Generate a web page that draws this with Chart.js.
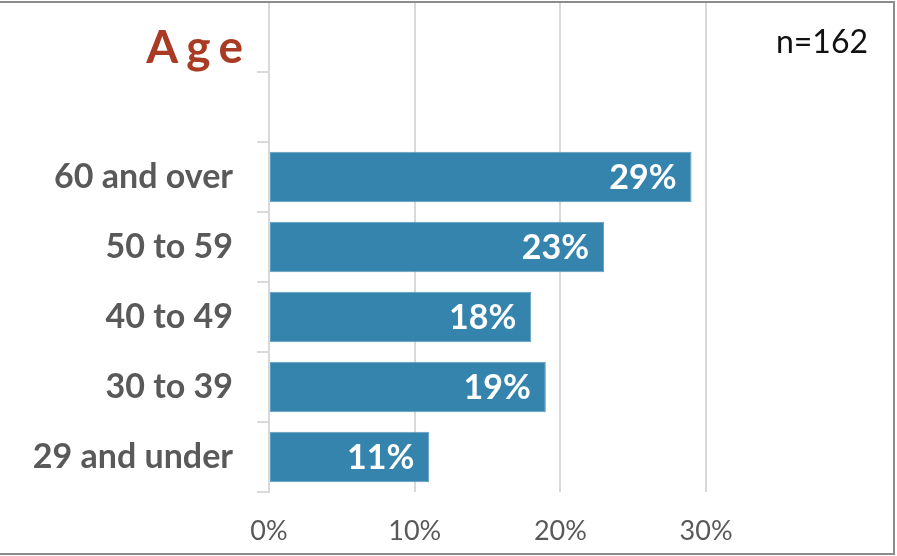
<!DOCTYPE html>
<html>
<head>
<meta charset="utf-8">
<script src="https://cdn.jsdelivr.net/npm/chart.js@4.4.1/dist/chart.umd.min.js"></script>
<style>
  html, body { margin: 0; padding: 0; background: #ffffff; }
  #wrap { width: 897px; height: 556px; }
</style>
</head>
<body>
<div id="wrap"><canvas id="ageChart" width="897" height="556"></canvas></div>
<script>
// Respondent age groups, top to bottom
const categories = ['60 and over', '50 to 59', '40 to 49', '30 to 39', '29 and under'];
// Share of respondents in each group, percent
const shares = [29, 23, 18, 19, 11];
// Gridline / tick positions on the value axis, percent
const xTicks = [0, 10, 20, 30];
const chartTitle = 'Age';
const sampleNote = 'n=162';

// two empty slots above the bars leave room for the title
const labels = ['', ''].concat(categories);
const values = [null, null].concat(shares);

const GRID = '#d9d9d9';
const TEXT = '#595959';

const barLabels = {
  id: 'barLabels',
  afterDatasetsDraw(chart) {
    const ctx = chart.ctx;
    const meta = chart.getDatasetMeta(0);
    ctx.save();
    ctx.font = 'bold 34px Lato';
    ctx.fillStyle = '#ffffff';
    ctx.textAlign = 'right';
    ctx.textBaseline = 'middle';
    meta.data.forEach((bar, i) => {
      const v = values[i];
      if (v === null) return;
      ctx.fillText(v + '%', bar.x - 15, bar.y + 1);
    });
    ctx.restore();
  }
};

const decorations = {
  id: 'decorations',
  afterDraw(chart) {
    const ctx = chart.ctx;
    ctx.save();
    // title with spaced letters
    ctx.font = 'bold 46px Lato';
    ctx.fillStyle = '#a93a24';
    ctx.textAlign = 'left';
    ctx.textBaseline = 'alphabetic';
    const gap = 8;
    const chars = chartTitle.split('');
    let total = chars.reduce((s, c) => s + ctx.measureText(c).width, 0) + gap * (chars.length - 1);
    let x = 243 - total;
    chars.forEach(c => {
      ctx.fillText(c, x, 63);
      x += ctx.measureText(c).width + gap;
    });
    // sample size
    ctx.font = '32px Lato';
    ctx.fillStyle = '#111111';
    ctx.textAlign = 'right';
    ctx.fillText(sampleNote, 868, 53);
    // outer frame
    ctx.strokeStyle = '#8c8c8c';
    ctx.lineWidth = 2;
    ctx.beginPath();
    ctx.moveTo(0, 2);
    ctx.lineTo(894, 2);
    ctx.lineTo(894, 554);
    ctx.lineTo(0, 554);
    ctx.stroke();
    ctx.restore();
  }
};

new Chart(document.getElementById('ageChart'), {
  type: 'bar',
  data: {
    labels: labels,
    datasets: [{
      data: values,
      backgroundColor: '#3584ae',
      borderColor: '#5f9cc0',
      borderWidth: 1,
      borderSkipped: false,
      categoryPercentage: 1,
      barPercentage: 0.72
    }]
  },
  options: {
    indexAxis: 'y',
    responsive: false,
    animation: false,
    devicePixelRatio: 1,
    layout: { padding: { top: 2, right: 5, bottom: 2, left: 0 } },
    plugins: {
      legend: { display: false },
      tooltip: { enabled: false },
      title: { display: false }
    },
    scales: {
      x: {
        type: 'linear',
        min: 0,
        max: 42.76,
        afterBuildTicks(scale) {
          scale.ticks = xTicks.map(v => ({ value: v }));
        },
        afterFit(scale) {
          scale.height = 62;
          scale.paddingLeft = 0;
          scale.paddingRight = 0;
        },
        grid: { color: GRID, lineWidth: 2, drawTicks: false },
        border: { display: false },
        ticks: {
          padding: 23,
          color: TEXT,
          font: { family: 'Lato', size: 27 },
          callback: v => v + '%'
        }
      },
      y: {
        afterFit(scale) {
          scale.width = 269;
          scale.paddingTop = 0;
          scale.paddingBottom = 0;
        },
        grid: { color: GRID, lineWidth: 2, drawOnChartArea: false, drawTicks: true, tickLength: 12 },
        border: { display: true, color: GRID, width: 2 },
        ticks: {
          padding: 24,
          color: TEXT,
          font: { family: 'Lato', size: 34, weight: 'bold' }
        }
      }
    }
  },
  plugins: [barLabels, decorations]
});
</script>
</body>
</html>
